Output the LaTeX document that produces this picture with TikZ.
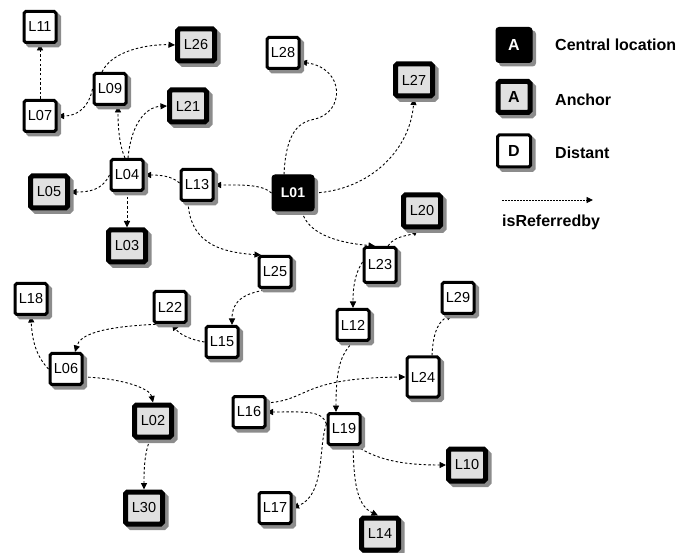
\documentclass[tikz,border=0pt]{standalone}
\usepackage{fontspec}
\setmainfont{Liberation Sans}
\usetikzlibrary{arrows.meta,shadows,calc}
\pgfdeclarelayer{bg}
\pgfsetlayers{bg,main}
\tikzset{
 box/.style={rectangle, rounded corners=1.8pt, inner sep=0pt,
   font=\fontsize{14.5}{16}\selectfont,
   drop shadow={shadow xshift=3.5pt, shadow yshift=-3.5pt, fill=black!45, draw=black!45, opacity=1}},
 dist/.style={box, draw=black, fill=white, line width=3pt, minimum width=32pt, minimum height=31pt},
 anch/.style={box, draw=black, fill=black!12, line width=5pt, minimum width=37pt, minimum height=32pt},
 cent/.style={box, draw=black, fill=black, text=white, line width=1pt, minimum width=42pt, minimum height=36pt,
   font=\bfseries\fontsize{14}{16}\selectfont, rounded corners=3pt},
 legbox/.style={font=\bfseries\fontsize{16}{18}\selectfont},
 ref/.style={line width=0.9pt, dash pattern=on 2.5pt off 2.2pt, -{Triangle[length=6.5pt,width=6pt]}},
 legtext/.style={anchor=west, inner sep=0pt, font=\bfseries\fontsize{16}{18}\selectfont},
}
\begin{document}
\begin{tikzpicture}[x=1pt,y=-1pt]
\useasboundingbox (0,0) rectangle (683,553);
% nodes
\node[dist] (L11) at (40,27) {L11};
\node[anch] (L26) at (196,45) {L26};
\node[dist] (L09) at (110,89) {L09};
\node[dist] (L07) at (40,116) {L07};
\node[anch] (L21) at (188,106) {L21};
\node[dist] (L04) at (127,175) {L04};
\node[dist] (L13) at (197,185) {L13};
\node[cent] (L01) at (293,193) {L01};
\node[anch] (L05) at (49,192) {L05};
\node[anch] (L03) at (127,246) {L03};
\node[dist] (L25) at (275,272) {L25};
\node[dist] (L22) at (170,307) {L22};
\node[dist] (L28) at (283,53) {L28};
\node[anch] (L27) at (414,80) {L27};
\node[anch] (L20) at (422,211) {L20};
\node[dist,minimum height=35pt] (L23) at (380,265) {L23};
\node[dist] (L18) at (31,299) {L18};
\node[dist] (L06) at (66,369) {L06};
\node[dist] (L15) at (222,342) {L15};
\node[anch] (L02) at (153,421) {L02};
\node[anch] (L30) at (144,508) {L30};
\node[dist] (L16) at (249,412) {L16};
\node[dist] (L17) at (275,508) {L17};
\node[dist] (L12) at (353,325) {L12};
\node[dist] (L29) at (458,298) {L29};
\node[dist,minimum height=40pt] (L24) at (423,377) {L24};
\node[dist] (L19) at (344,429) {L19};
\node[anch] (L10) at (467,465) {L10};
\node[anch] (L14) at (380,534) {L14};
% legend
\node[cent, minimum width=36pt, minimum height=35pt, legbox] (lc) at (514,45) {A};
\node[anch, minimum width=32pt, minimum height=31pt, legbox] (la) at (514,97) {A};
\node[dist, minimum width=33pt, minimum height=32pt, legbox] (ld) at (514,151) {D};
\node[legtext] (tc) at (555,45) {Central location};
\node[legtext] (ta) at (555,100) {Anchor};
\node[legtext] (td) at (555,153) {Distant};
\coordinate (r1) at (502,200);
\coordinate (r2) at (593,200);
\node[legtext] (tr) at (502,222) {isReferredby};
% edges
\begin{pgfonlayer}{bg}
\draw[ref, dash pattern=on 1.8pt off 1.2pt] (r1) -- (r2);
\draw[ref] (L07.north) -- (L11.south);
\draw[ref] ($(L09.north)+(-8,0)$) .. controls (112,50) and (150,44) .. (L26.west);
\draw[ref] (L09.west) .. controls (88,110) and (75,116) .. (L07.east);
\draw[ref] ($(L04.north)+(-2,0)$) .. controls (119,145) and (118,125) .. ($(L09.south)+(8,0)$);
\draw[ref] ($(L04.north)+(1,0)$) .. controls (131,125) and (145,107) .. (L21.west);
\draw[ref] (L04.west) .. controls (102,190) and (90,192) .. (L05.east);
\draw[ref] (L04.south) -- (L03.north);
\draw[ref] ($(L13.west)+(0,-2)$) .. controls (172,176) and (160,175) .. (L04.east);
\draw[ref] (L01.west) .. controls (262,184) and (240,185) .. (L13.east);
\draw[ref] ($(L01.north)+(-9,0)$) .. controls (286,130) and (300,122) .. (315,119)
   .. controls (345,112) and (345,68) .. ($(L28.east)+(0,9)$);
\draw[ref] (L01.east) .. controls (370,190) and (410,150) .. (L27.south);
\draw[ref] ($(L01.south)+(9,0)$) .. controls (308,235) and (340,243) .. ($(L23.north)+(-5,0)$);
\draw[ref] ($(L23.north)+(8,0)$) .. controls (395,235) and (410,236) .. ($(L20.south)+(-4,0)$);
\draw[ref] ($(L13.south)+(-9,0)$) .. controls (190,240) and (215,252) .. ($(L25.north)+(-14,0)$);
\draw[ref] ($(L25.south)+(-2,0)$) .. controls (245,292) and (232,300) .. ($(L15.north)+(10,0)$);
\draw[ref] (L15.west) .. controls (192,340) and (180,335) .. ($(L22.south)+(2,0)$);
\draw[ref] ($(L22.south)+(-5,0)$) .. controls (100,326) and (80,335) .. ($(L06.north)+(9,0)$);
\draw[ref] (L06.west) .. controls (36,356) and (32,340) .. (L18.south);
\draw[ref] ($(L06.east)+(0,8)$) .. controls (120,378) and (150,388) .. (L02.north);
\draw[ref] ($(L02.south)+(-3,0)$) .. controls (145,452) and (144,465) .. (L30.north);
\draw[ref] ($(L23.west)+(0,-3)$) .. controls (354,275) and (353,290) .. (L12.north);
\draw[ref] (L12.south) .. controls (340,355) and (336,370) .. ($(L19.north)+(-8,0)$);
\draw[ref] ($(L16.east)+(0,-9)$) .. controls (310,400) and (300,378) .. (L24.west);
\draw[ref] ($(L19.west)+(0,-5)$) .. controls (322,410) and (305,412) .. (L16.east);
\draw[ref] ($(L19.west)+(0,-5)$) .. controls (318,445) and (326,495) .. (L17.east);
\draw[ref] ($(L24.north)+(9,0)$) .. controls (433,330) and (440,320) .. ($(L29.south)+(-5,0)$);
\draw[ref] ($(L19.south east)+(-5,0)$) .. controls (380,462) and (410,465) .. (L10.west);
\draw[ref] ($(L19.south)+(9,0)$) .. controls (354,480) and (356,505) .. ($(L14.north)+(-2,0)$);
\end{pgfonlayer}
\end{tikzpicture}
\end{document}
